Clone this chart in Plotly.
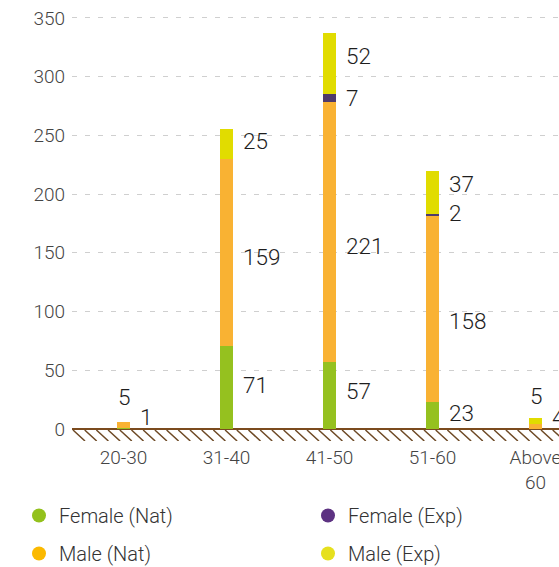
import plotly.graph_objects as go

# ---------------- data ----------------
categories = ["20-30", "31-40", "41-50", "51-60", "Above 60"]
tick_text = ["20-30", "31-40", "41-50", "51-60", "Above<br>60"]
female_nat = [1, 71, 57, 23, 0]
male_nat = [5, 159, 221, 158, 4]
female_exp = [0, 0, 7, 2, 0]
male_exp = [0, 25, 52, 37, 5]
y_ticks = [0, 50, 100, 150, 200, 250, 300, 350]

# ---------------- styles ----------------
series = [
    ("Female (Nat)", female_nat, "#95c11f", "#93c11c"),
    ("Male (Nat)", male_nat, "#f9b233", "#fbb900"),
    ("Female (Exp)", female_exp, "#4f3a6b", "#5d3282"),
    ("Male (Exp)", male_exp, "#e1dc00", "#e6e01e"),
]
FONT = "Roboto, 'Open Sans', sans-serif"
W, H = 559, 567
PLOT_LEFT = 72
BAND = 103
Y0_PX, Y350_PX = 429, 18
PXU = (Y0_PX - Y350_PX) / 350.0
HATCH_DEPTH = 12
Y_TOP = 355
y_min = -HATCH_DEPTH / PXU
margin_t = Y350_PX - (Y_TOP - 350) * PXU
plot_h = (Y_TOP - y_min) * PXU
margin_b = H - margin_t - plot_h
x_max = (W - PLOT_LEFT) / BAND - 0.5

# label placement: "right" of segment or "top" of bar, with pixel nudge (up +)
label_nudge = {
    (0, "Female (Nat)"): ("right", 11),
    (0, "Male (Nat)"): ("top", 25),
    (1, "Female (Nat)"): ("right", 2),
    (1, "Male (Nat)"): ("right", -5),
    (1, "Male (Exp)"): ("right", 3),
    (2, "Female (Nat)"): ("right", 5),
    (2, "Male (Nat)"): ("right", -14),
    (2, "Female (Exp)"): ("right", 0),
    (2, "Male (Exp)"): ("right", 8),
    (3, "Female (Nat)"): ("right", 2),
    (3, "Male (Nat)"): ("right", -12),
    (3, "Female (Exp)"): ("right", 2),
    (3, "Male (Exp)"): ("right", 8),
    (4, "Male (Nat)"): ("right", 10),
    (4, "Male (Exp)"): ("top", 22),
}
LABEL_FONT = dict(family=FONT, size=22.5, color="#1e1e1e", weight=300)
TICK_FONT = dict(family=FONT, size=19, color="#444444", weight=300)
LEGEND_FONT = dict(family=FONT, size=20, color="#333333", weight=300)

fig = go.Figure()
for name, vals, bar_col, _ in series:
    fig.add_trace(go.Bar(x=categories, y=vals, name=name, marker=dict(color=bar_col, line=dict(width=0)),
                         showlegend=False, hoverinfo="skip"))

# legend entries (circle markers), two columns
for k, (name, vals, _, leg_col) in enumerate(series):
    fig.add_trace(go.Scatter(x=[None], y=[None], mode="markers", name=name,
                             marker=dict(color=leg_col, size=14, symbol="circle"),
                             legend="legend" if k in (0, 1) else "legend2",
                             legendgroup=name))

# value labels
annotations = []
cum = [0] * len(categories)
for name, vals, _, _ in series:
    for i, v in enumerate(vals):
        if v:
            mode, nudge = label_nudge.get((i, name), ("right", 0))
            total = female_nat[i] + male_nat[i] + female_exp[i] + male_exp[i]
            if mode == "right":
                annotations.append(dict(x=i, y=cum[i] + v / 2.0, xref="x", yref="y", text=str(v),
                                        showarrow=False, xanchor="left", yanchor="middle",
                                        xshift=14, yshift=nudge, font=LABEL_FONT))
            else:
                annotations.append(dict(x=i, y=total, xref="x", yref="y", text=str(v),
                                        showarrow=False, xanchor="center", yanchor="middle",
                                        xshift=0, yshift=nudge, font=LABEL_FONT))
        cum[i] += v

# hatched ground below the baseline
path = ""
px = PLOT_LEFT + 1
while px < W + 5:
    x0 = (px - PLOT_LEFT) / BAND - 0.5
    x1 = x0 + 12.0 / BAND
    path += f"M{x0},{-1.0 / PXU} L{x1},{y_min} "
    px += 11.7
shapes = [dict(type="path", xref="x", yref="y", path=path,
               line=dict(color="#6e4a26", width=1.5), layer="above")]

fig.update_layout(
    width=W, height=H,
    margin=dict(l=PLOT_LEFT, r=0, t=margin_t, b=margin_b, autoexpand=False),
    barmode="stack", bargap=0.874,
    plot_bgcolor="white", paper_bgcolor="white",
    font=dict(family=FONT, size=17, color="#444444"),
    annotations=annotations, shapes=shapes,
    legend=dict(xref="container", yref="container", x=19 / W, y=1 - 496 / H, xanchor="left", yanchor="top",
                orientation="v", tracegroupgap=9, font=LEGEND_FONT, bgcolor="rgba(0,0,0,0)"),
    legend2=dict(xref="container", yref="container", x=308 / W, y=1 - 496 / H, xanchor="left", yanchor="top",
                 orientation="v", tracegroupgap=9, font=LEGEND_FONT, bgcolor="rgba(0,0,0,0)"),
)
fig.update_xaxes(type="category", range=[-0.5, x_max], tickmode="array", tickvals=categories,
                 ticktext=tick_text, showgrid=False, showline=False, ticks="", zeroline=False,
                 tickangle=0, automargin=False, ticklabelstandoff=3,
                 tickfont=TICK_FONT, fixedrange=True)
fig.update_yaxes(range=[y_min, Y_TOP], tickmode="array", tickvals=y_ticks, showgrid=True,
                 gridcolor="#cfcfcf", gridwidth=1, griddash="5px,8px", automargin=False,
                 zeroline=True, zerolinecolor="#7b4b1e", zerolinewidth=2, showline=False, ticks="",
                 ticklabelstandoff=6, tickfont=TICK_FONT, fixedrange=True)

fig.write_html("out.html", config={"displayModeBar": False},
               post_script="document.body.style.margin='0';document.body.style.overflow='hidden';")
